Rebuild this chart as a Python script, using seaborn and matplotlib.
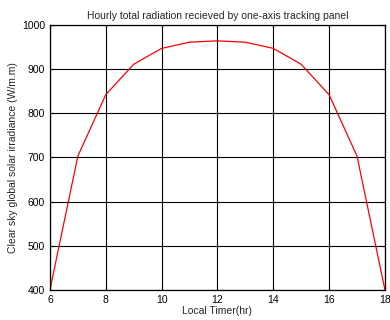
import matplotlib
matplotlib.use("Agg")
import matplotlib.pyplot as plt
import seaborn as sns
import pandas as pd

hours = [6, 7, 8, 9, 10, 11, 12, 13, 14, 15, 16, 17, 18]
radiation = [400, 703, 842, 911, 947, 961, 964, 961, 947, 911, 842, 703, 400]
xticks = [6, 8, 10, 12, 14, 16, 18]
yticks = [400, 500, 600, 700, 800, 900, 1000]

sns.set_style("white")
plt.rcParams['font.family'] = ['Liberation Sans', 'DejaVu Sans']

df = pd.DataFrame({"hour": hours, "rad": radiation})
fig = plt.figure(figsize=(3.9, 3.2), dpi=100)
ax = fig.add_axes([0.128, 0.094, 0.859, 0.828])
sns.lineplot(data=df, x="hour", y="rad", color="red", linewidth=0.9, ax=ax)
ax.set_xlim(6, 18)
ax.set_ylim(400, 1000)
ax.set_xticks(xticks)
ax.set_yticks(yticks)
ax.grid(True, color="black", linewidth=0.8, linestyle="-")
for s in ax.spines.values():
    s.set_color("black")
    s.set_linewidth(0.9)
ax.tick_params(direction="in", length=3, labelsize=7.5, colors="black", bottom=True, left=True, top=True, right=True)
ax.set_xlabel("Local Timer(hr)", fontsize=7.5, labelpad=1)
ax.set_ylabel("Clear sky global solar irradiance (W/m.m)", fontsize=7.5, labelpad=3)
ax.set_title("Hourly total radiation recieved by one-axis tracking panel", fontsize=7.5, pad=4)
fig.savefig("out.png", dpi=100)
